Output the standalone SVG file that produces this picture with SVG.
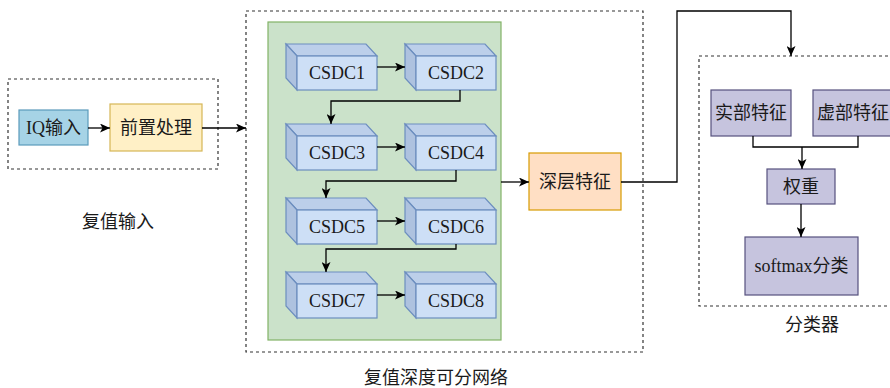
<svg xmlns="http://www.w3.org/2000/svg" width="890" height="388" viewBox="0 0 890 388">
<style>
text{font-family:"Liberation Serif","Noto Sans CJK SC",serif;font-size:18px;fill:#1a1a1a;text-anchor:middle}
.dash{fill:none;stroke:#333;stroke-width:1.2;stroke-dasharray:3 3}
.ln{fill:none;stroke:#000;stroke-width:1.3}
.arr{marker-end:url(#ah)}
.cf{fill:#cddff6;stroke:#6c8ebf;stroke-width:1.2}
.ct{fill:#bccfea;stroke:#6c8ebf;stroke-width:1.2}
.cl{fill:#aec2df;stroke:#6c8ebf;stroke-width:1.2}
.pur{fill:#c6c4de;stroke:#56517e;stroke-width:1.2}
</style>
<defs>
<marker id="ah" markerUnits="userSpaceOnUse" markerWidth="11" markerHeight="9" refX="10" refY="4.5" orient="auto">
<path d="M0,0 L10,4.5 L0,9 L2.5,4.5 z" fill="#000"/>
</marker>
<g id="cube">
<path class="ct" d="M0,0 H80 L91,12 H11 Z"/>
<path class="cl" d="M0,0 L11,12 V46 L0,34 Z"/>
<rect class="cf" x="11" y="12" width="80" height="34"/>
</g>
</defs>

<g id="group-input">
<rect class="dash" x="8" y="79" width="210" height="90"/>
<text x="118" y="228">复值输入</text>
</g>
<g id="node-iq">
<rect x="19" y="110" width="69" height="35" fill="#a6d3e6" stroke="#5b9bbb" stroke-width="1.2"/>
<text x="53.5" y="134">IQ输入</text>
</g>
<g id="node-pre">
<rect x="110" y="104" width="92" height="47" fill="#fff0c6" stroke="#d6b656" stroke-width="1.2"/>
<text x="156" y="134">前置处理</text>
</g>

<g id="group-net">
<rect class="dash" x="246" y="11" width="397" height="341"/>
<rect x="268" y="22" width="233" height="318" fill="#cbe2ca" stroke="#82b366" stroke-width="1.2"/>
<text x="436" y="384">复值深度可分网络</text>
</g>
<g id="node-csdc1"><use href="#cube" x="286" y="44"/><text x="337" y="79">CSDC1</text></g>
<g id="node-csdc2"><use href="#cube" x="405" y="44"/><text x="456" y="79">CSDC2</text></g>
<g id="node-csdc3"><use href="#cube" x="286" y="124"/><text x="337" y="159">CSDC3</text></g>
<g id="node-csdc4"><use href="#cube" x="405" y="124"/><text x="456" y="159">CSDC4</text></g>
<g id="node-csdc5"><use href="#cube" x="286" y="198"/><text x="337" y="233">CSDC5</text></g>
<g id="node-csdc6"><use href="#cube" x="405" y="198"/><text x="456" y="233">CSDC6</text></g>
<g id="node-csdc7"><use href="#cube" x="286" y="272"/><text x="337" y="307">CSDC7</text></g>
<g id="node-csdc8"><use href="#cube" x="405" y="272"/><text x="456" y="307">CSDC8</text></g>

<g id="node-deep">
<rect x="529" y="153" width="92" height="57" fill="#ffdfc4" stroke="#d79b00" stroke-width="1.2"/>
<text x="575" y="188">深层特征</text>
</g>

<g id="group-cls">
<rect class="dash" x="699" y="56" width="200" height="250"/>
<text x="812" y="331">分类器</text>
</g>
<g id="node-real">
<rect class="pur" x="711" y="90" width="80" height="46"/>
<text x="751" y="119">实部特征</text>
</g>
<g id="node-imag">
<rect class="pur" x="813" y="90" width="80" height="46"/>
<text x="853" y="119">虚部特征</text>
</g>
<g id="node-weight">
<rect class="pur" x="767" y="169" width="68" height="35"/>
<text x="801" y="193">权重</text>
</g>
<g id="node-softmax">
<rect class="pur" x="745" y="237" width="113" height="58"/>
<text x="801.5" y="272">softmax分类</text>
</g>

<g id="connectors">
<path class="ln arr" d="M88,128 H110"/>
<path class="ln arr" d="M202,128 H246"/>
<path class="ln arr" d="M377,67 H405"/>
<path class="ln arr" d="M377,147 H405"/>
<path class="ln arr" d="M377,221 H405"/>
<path class="ln arr" d="M377,295 H405"/>
<path class="ln arr" d="M460,90 V101 H331 V124"/>
<path class="ln arr" d="M456,170 V181 H326 V198"/>
<path class="ln arr" d="M456,244 V249 H326 V272"/>
<path class="ln arr" d="M501,182 H529"/>
<path class="ln arr" d="M621,182 H677 V11 H791 V56"/>
<path class="ln" d="M753,136 V147 H858 V136"/>
<path class="ln arr" d="M802,147 V169"/>
<path class="ln arr" d="M801,204 V237"/>
</g>
</svg>
